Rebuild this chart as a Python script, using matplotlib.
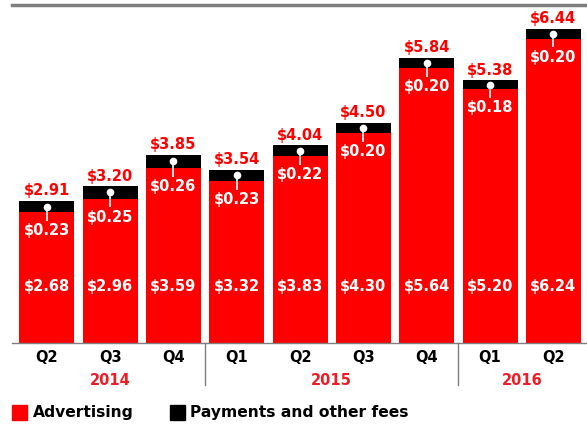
import matplotlib.pyplot as plt
import matplotlib.transforms as mtransforms
from matplotlib.patches import Rectangle

# Quarterly revenue per user, USD
quarters = ['Q2', 'Q3', 'Q4', 'Q1', 'Q2', 'Q3', 'Q4', 'Q1', 'Q2']
years = ['2014', '2015', '2016']
year_groups = [(0, 2), (3, 6), (7, 8)]
advertising = [2.68, 2.96, 3.59, 3.32, 3.83, 4.30, 5.64, 5.20, 6.24]
payments = [0.23, 0.25, 0.26, 0.23, 0.22, 0.20, 0.20, 0.18, 0.20]
totals = [2.91, 3.20, 3.85, 3.54, 4.04, 4.50, 5.84, 5.38, 6.44]

RED = '#ff0000'
YEAR_RED = '#ee1c25'
GREY = '#7f7f7f'
FS = 10.5

plt.rcParams['font.family'] = ['DejaVu Sans']
fig = plt.figure(figsize=(5.87, 4.26), dpi=100)
ax = fig.add_axes([0.02, 0.1948, 0.98, 0.7934])

x = list(range(len(quarters)))
w = 0.87
ax.bar(x, advertising, w, color=RED, zorder=2)
ax.bar(x, payments, w, bottom=advertising, color='black', zorder=2)

for i in x:
    a, p, t = advertising[i], payments[i], totals[i]
    ax.text(i, 1.15, f'${a:.2f}', ha='center', va='center', color='white',
            fontsize=FS, fontweight='bold', zorder=4)
    ax.text(i, a - 0.38, f'${p:.2f}', ha='center', va='center', color='white',
            fontsize=FS, fontweight='bold', zorder=4)
    ax.text(i, t + 0.06, f'${t:.2f}', ha='center', va='bottom', color=RED,
            fontsize=FS, fontweight='bold', zorder=4)
    # little pin linking the black segment to its label
    ax.plot([i, i], [a + p / 2, a - 0.18], color='white', lw=1.2, zorder=3,
            solid_capstyle='butt')
    ax.plot(i, a + p / 2, 'o', color='white', ms=4.5, zorder=3)

ax.set_xlim(-0.553, 8.53)
ax.set_ylim(0, 6.926)
ax.set_xticks(x)
ax.set_xticklabels(quarters, fontsize=FS, fontweight='bold')
ax.tick_params(axis='x', length=0, pad=5)
ax.set_yticks([])

for s in ['left', 'right']:
    ax.spines[s].set_visible(False)
ax.spines['bottom'].set_color(GREY)
ax.spines['bottom'].set_linewidth(1)
ax.spines['top'].set_color(GREY)
ax.spines['top'].set_linewidth(2.5)

trans = mtransforms.blended_transform_factory(ax.transData, ax.transAxes)
for name, (lo, hi) in zip(years, year_groups):
    ax.text((lo + hi) / 2, -0.11, name, transform=trans, ha='center',
            va='center', color=YEAR_RED, fontsize=FS, fontweight='bold')
for lo, hi in year_groups[:-1]:
    sep = hi + 0.5
    ax.plot([sep, sep], [0, -0.125], transform=trans, color=GREY, lw=1,
            clip_on=False)

# legend
fig.patches.append(Rectangle((12 / 587, 6 / 426), 15 / 587, 15 / 426,
                             transform=fig.transFigure, color=RED))
fig.text(33 / 587, 13.5 / 426, 'Advertising', fontsize=11.2, fontweight='bold',
         va='center')
fig.patches.append(Rectangle((170 / 587, 6 / 426), 15 / 587, 15 / 426,
                             transform=fig.transFigure, color='black'))
fig.text(190 / 587, 13.5 / 426, 'Payments and other fees', fontsize=11.2,
         fontweight='bold', va='center')

fig.savefig('out.png', dpi=100)
